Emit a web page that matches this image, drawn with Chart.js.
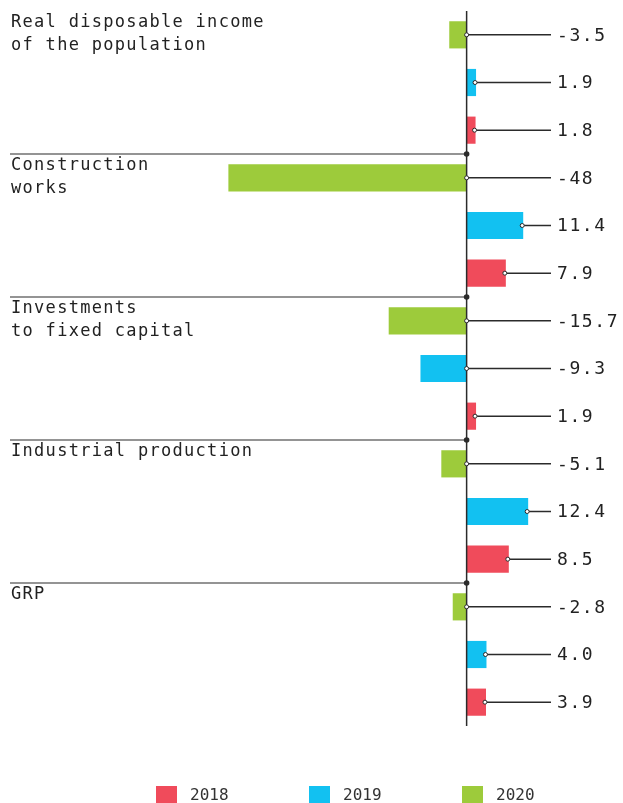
<!DOCTYPE html>
<html>
<head>
<meta charset="utf-8">
<script src="https://cdn.jsdelivr.net/npm/chart.js@4"></script>
<style>
  body { margin: 0; background: #fff; }
  .wrap { position: relative; width: 623px; height: 803px; }
  #legend { position: absolute; left: 0; top: 785px; width: 623px; height: 18px; }
  .item { position: absolute; top: 0; display: flex; align-items: center; font: 16px "DejaVu Sans Mono", monospace; color: #333; }
  .item span.box { display: inline-block; width: 21px; height: 18px; margin-right: 13px; }
</style>
</head>
<body>
<div class="wrap">
  <canvas id="chart" width="623" height="803"></canvas>
  <div id="legend"></div>
</div>
<script>
// categories, top to bottom
const categories = [
  ['Real disposable income', 'of the population'],
  ['Construction', 'works'],
  ['Investments', 'to fixed capital'],
  ['Industrial production'],
  ['GRP']
];

// growth, % per year
const values2018 = [1.8, 7.9, 1.9, 8.5, 3.9];
const values2019 = [1.9, 11.4, -9.3, 12.4, 4.0];
const values2020 = [-3.5, -48, -15.7, -5.1, -2.8];

const years = ['2018', '2019', '2020'];
const colors = { '2018': '#f04b5b', '2019': '#12c1f1', '2020': '#9dcb3b' };

const ink = '#2b2b2b';
const monoFont = '"DejaVu Sans Mono", monospace';

function fmt(v) {
  if (Number.isInteger(v) && Math.abs(v) >= 10) return String(v);
  return v.toFixed(1);
}

// draws the zero line, group separators, category names and value leaders
const decorPlugin = {
  id: 'decor',
  afterDatasetsDraw(chart) {
    const ctx = chart.ctx;
    const area = chart.chartArea;
    const x = chart.scales.x;
    const y = chart.scales.y;
    const zero = x.getPixelForValue(0);
    const step = (y.getPixelForValue(1) - y.getPixelForValue(0));

    ctx.save();

    // zero axis
    ctx.strokeStyle = ink;
    ctx.lineWidth = 1.5;
    ctx.beginPath();
    ctx.moveTo(zero, area.top);
    ctx.lineTo(zero, area.bottom);
    ctx.stroke();

    // separators and category names
    categories.forEach((lines, i) => {
      const top = y.getPixelForValue(i) - step / 2;
      if (i > 0) {
        ctx.strokeStyle = ink;
        ctx.lineWidth = 1.2;
        ctx.beginPath();
        ctx.moveTo(area.left, top);
        ctx.lineTo(zero, top);
        ctx.stroke();
        ctx.fillStyle = ink;
        ctx.beginPath();
        ctx.arc(zero, top, 2.8, 0, Math.PI * 2);
        ctx.fill();
      }
      ctx.fillStyle = '#222';
      ctx.font = '17px ' + monoFont;
      ctx.letterSpacing = '1.3px';
      ctx.textBaseline = 'middle';
      ctx.textAlign = 'left';
      lines.forEach((t, k) => {
        ctx.fillText(t, area.left + 1, top + 12 + k * 23);
      });
    });

    // leaders and values
    chart.data.datasets.forEach((ds, di) => {
      const meta = chart.getDatasetMeta(di);
      meta.data.forEach((bar, i) => {
        const v = ds.data[i];
        const start = v >= 0 ? bar.x - 1 : zero;
        const cy = bar.y;
        ctx.strokeStyle = ink;
        ctx.lineWidth = 1.5;
        ctx.beginPath();
        ctx.moveTo(start, cy);
        ctx.lineTo(area.right, cy);
        ctx.stroke();
        ctx.fillStyle = '#fff';
        ctx.lineWidth = 1;
        ctx.beginPath();
        ctx.arc(start, cy, 2, 0, Math.PI * 2);
        ctx.fill();
        ctx.stroke();

        ctx.fillStyle = '#222';
        ctx.font = '18px ' + monoFont;
        ctx.letterSpacing = '1.6px';
        ctx.textBaseline = 'middle';
        ctx.fillText(fmt(v), area.right + 6, cy + 1);
      });
    });

    ctx.restore();
  }
};

const chart = new Chart(document.getElementById('chart'), {
  type: 'bar',
  data: {
    labels: categories.map(c => c.join(' ')),
    datasets: [
      { label: '2020', data: values2020, backgroundColor: colors['2020'] },
      { label: '2019', data: values2019, backgroundColor: colors['2019'] },
      { label: '2018', data: values2018, backgroundColor: colors['2018'] }
    ]
  },
  options: {
    indexAxis: 'y',
    responsive: false,
    animation: false,
    datasets: {
      bar: { categoryPercentage: 1, barPercentage: 0.57 }
    },
    layout: { padding: { top: 11, left: 10, right: 72, bottom: 77 } },
    scales: {
      x: { display: false, min: -92, max: 17 },
      y: { display: false }
    },
    plugins: {
      legend: { display: false },
      tooltip: { enabled: false }
    }
  },
  plugins: [decorPlugin]
});

// html legend, built from the chart datasets
const legendEl = document.getElementById('legend');
const legendLeft = [156, 309, 462];
years.forEach((yr, i) => {
  const ds = chart.data.datasets.find(d => d.label === yr);
  const item = document.createElement('div');
  item.className = 'item';
  item.style.left = legendLeft[i] + 'px';
  item.innerHTML = '<span class="box" style="background:' + ds.backgroundColor + '"></span>' + ds.label;
  legendEl.appendChild(item);
});
</script>
</body>
</html>
